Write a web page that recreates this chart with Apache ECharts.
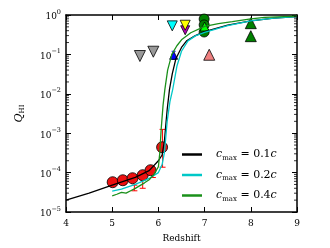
<!DOCTYPE html>
<html><head><meta charset="utf-8">
<script src="https://cdn.jsdelivr.net/npm/echarts@6/dist/echarts.min.js"></script>
<style>html,body{margin:0;padding:0;background:#fff}#c{width:330px;height:248px}</style>
</head><body><div id="c"></div>
<script>
// ---- data ----
const xTicks = [4, 5, 6, 7, 8, 9];
const yTicks = [1e-5, 1e-4, 1e-3, 1e-2, 1e-1, 1];
const yTickLabels = ['10{s|−5}', '10{s|−4}', '10{s|−3}', '10{s|−2}', '10{s|−1}', '10{s|0}'];
const minorMult = [2, 3, 4, 5, 6, 7, 8, 9];
const legendNames = ['c01', 'c02', 'c04'];
const legendLabels = ['0.1', '0.2', '0.4'];

const line01 = [[4,2.0e-5],[4.5,3.0e-5],[5,4.8e-5],[5.5,7.6e-5],[5.8,1.12e-4],[6.0,2.0e-4],[6.08,2.8e-4],[6.13,6.3e-4],[6.16,1.6e-3],[6.19,4.0e-3],[6.24,1.3e-2],[6.30,3.2e-2],[6.38,7.9e-2],[6.5,0.15],[6.61,0.22],[6.8,0.30],[7.0,0.38],[7.5,0.55],[8.0,0.71],[8.5,0.83],[9,0.91]];
const line02 = [[5,3.4e-5],[5.2,3.8e-5],[5.5,5.0e-5],[5.8,7.1e-5],[6.0,1.0e-4],[6.08,1.6e-4],[6.13,3.2e-4],[6.16,7.9e-4],[6.19,2.0e-3],[6.25,6.3e-3],[6.31,1.3e-2],[6.4,5.0e-2],[6.5,0.12],[6.64,0.22],[6.8,0.295],[7.0,0.363],[7.5,0.537],[8.0,0.708],[8.5,0.832],[9,0.912]];
const line04 = [[5,2.57e-5],[5.1,2.82e-5],[5.2,3.16e-5],[5.3,3.02e-5],[5.4,3.47e-5],[5.5,3.98e-5],[5.6,4.68e-5],[5.7,5.5e-5],[5.8,6.6e-5],[5.9,8.9e-5],[6.0,1.41e-4],[6.03,3.16e-4],[6.06,1.26e-3],[6.1,5.0e-3],[6.14,1.29e-2],[6.2,4.0e-2],[6.29,0.1],[6.4,0.166],[6.5,0.234],[6.7,0.355],[7.0,0.513],[7.3,0.603],[7.6,0.676],[8.0,0.794],[8.3,0.871],[9,0.933]];

const redCircles = [[5.01,5.7e-5],[5.23,6.4e-5],[5.44,7.2e-5],[5.66,8.6e-5],[5.83,1.15e-4],[6.08,4.4e-4]];
const redErr = [[5.48,4.8e-5,3.45e-5],[5.66,6.5e-5,4.0e-5],[5.88,1.0e-4,7.5e-5],[6.09,1.25e-3,1.37e-4]];
const grayDown = [[5.60,0.091],[5.89,0.117]];
const cyanDown = [[6.30,0.53]];
const yellowDown = [[6.58,0.55]];
const magentaDown = [[6.58,0.41]];
const bluePts = [[6.33,0.095]];
const blueErr = [[6.33,0.12,0.075]];
const greenCircles = [[6.99,0.79],[6.99,0.56],[6.99,0.37]];
const limeUp = [[7.0,0.51]];
const salmonUp = [[7.1,0.098]];
const dkGreenUp = [[8.0,0.62],[8.0,0.29]];

// ---- chart ----
const SERIF = 'DejaVu Serif';
const chart = echarts.init(document.getElementById('c'), null, {renderer: 'canvas'});

const minorVals = [];
yTicks.slice(0, -1).forEach(d => minorMult.forEach(m => minorVals.push([d * m])));

function errRender(color, cap) {
  return function (params, api) {
    const x = api.value(0);
    const p1 = api.coord([x, api.value(1)]);
    const p2 = api.coord([x, api.value(2)]);
    const st = {stroke: color, lineWidth: 1};
    return {type: 'group', children: [
      {type: 'line', shape: {x1: p1[0], y1: p1[1], x2: p2[0], y2: p2[1]}, style: st},
      {type: 'line', shape: {x1: p1[0]-cap, y1: p1[1], x2: p1[0]+cap, y2: p1[1]}, style: st},
      {type: 'line', shape: {x1: p2[0]-cap, y1: p2[1], x2: p2[0]+cap, y2: p2[1]}, style: st}
    ]};
  };
}

function scatter(data, symbol, color, size, rotate, z) {
  return {type: 'scatter', data: data, symbol: symbol, symbolSize: size, symbolRotate: rotate || 0,
    itemStyle: {color: color, borderColor: '#000', borderWidth: 0.8, opacity: 1}, z: z || 3, silent: true};
}

const axisCommon = {
  axisLine: {show: true, lineStyle: {color: '#000', width: 1.5}},
  axisTick: {show: true, inside: true, length: 5, lineStyle: {color: '#000', width: 1}},
  splitLine: {show: false}
};

const lineColors = ['#000000', '#00c8c8', '#1a901a'];

chart.setOption({
  animation: false,
  backgroundColor: '#fff',
  grid: {left: 66, right: 33, top: 15, bottom: 35},
  legend: {
    orient: 'vertical', left: 182, top: 149, padding: 0, itemWidth: 20, itemHeight: 2.5, itemGap: 8,
    icon: 'rect',
    data: legendNames,
    formatter: function (n) { return '{i|c}{s|max}{n| = ' + legendLabels[legendNames.indexOf(n)] + '}{i|c}'; },
    textStyle: {padding: [0, 0, 0, 9], rich: {
      i: {fontFamily: SERIF, fontStyle: 'italic', fontSize: 11, color: '#000', lineHeight: 14, verticalAlign: 'middle'},
      s: {fontFamily: SERIF, fontSize: 7, color: '#000', lineHeight: 14, verticalAlign: 'bottom'},
      n: {fontFamily: SERIF, fontSize: 11, color: '#000', lineHeight: 14, verticalAlign: 'middle'}
    }}
  },
  xAxis: [
    Object.assign({type: 'value', min: 4, max: 9, interval: 1, position: 'bottom',
      name: 'Redshift', nameLocation: 'middle', nameGap: 22,
      nameTextStyle: {fontFamily: SERIF, fontSize: 9, color: '#000'},
      axisLabel: {fontFamily: SERIF, fontSize: 9, color: '#000', margin: 7,
        formatter: v => String(xTicks[xTicks.indexOf(v)])}}, axisCommon),
    Object.assign({type: 'value', min: 4, max: 9, interval: 1, position: 'top', axisLabel: {show: false}}, axisCommon)
  ],
  yAxis: [
    Object.assign({type: 'log', min: 1e-5, max: 1, logBase: 10, position: 'left',
      name: '{q|Q}{h|HI}', nameLocation: 'middle', nameGap: 40, nameRotate: 90,
      nameTextStyle: {rich: {
        q: {fontFamily: SERIF, fontStyle: 'italic', fontSize: 11, color: '#000', lineHeight: 14, verticalAlign: 'middle'},
        h: {fontFamily: SERIF, fontSize: 7, color: '#000', lineHeight: 14, verticalAlign: 'bottom'}
      }},
      axisLabel: {margin: 5, formatter: v => {
        const i = yTicks.findIndex(t => Math.abs(Math.log10(t) - Math.log10(v)) < 1e-6);
        return i >= 0 ? '{b|' + yTickLabels[i].replace('{s|', '}{s|') : '';
      }, rich: {
        b: {fontFamily: SERIF, fontSize: 9, color: '#000', lineHeight: 13, verticalAlign: 'bottom'},
        s: {fontFamily: SERIF, fontSize: 6.5, color: '#000', lineHeight: 13, verticalAlign: 'top'}
      }}}, axisCommon),
    Object.assign({type: 'log', min: 1e-5, max: 1, logBase: 10, position: 'right', axisLabel: {show: false}}, axisCommon)
  ],
  series: [
    {type: 'custom', renderItem: errRender('#ff0000', 3), data: redErr, z: 2, silent: true},
    scatter(redCircles, 'circle', '#ee1111', 11, 0, 2),
    {type: 'line', name: 'c01', data: line01, symbol: 'none', lineStyle: {color: lineColors[0], width: 1.3}, itemStyle: {color: lineColors[0]}, z: 4},
    {type: 'line', name: 'c02', data: line02, symbol: 'none', lineStyle: {color: lineColors[1], width: 1.3}, itemStyle: {color: lineColors[1]}, z: 4},
    {type: 'line', name: 'c04', data: line04, symbol: 'none', lineStyle: {color: lineColors[2], width: 1.3}, itemStyle: {color: lineColors[2]}, z: 4},
    scatter(grayDown, 'triangle', '#999999', 11, 180),
    scatter(cyanDown, 'triangle', '#00ffff', 10, 180),
    scatter(magentaDown, 'triangle', '#bb00bb', 9, 180),
    scatter(yellowDown, 'triangle', '#ffff00', 10, 180),
    {type: 'custom', renderItem: errRender('#0000ff', 2), data: blueErr, z: 3, silent: true},
    scatter(bluePts, 'triangle', '#0000ff', 8, 0),
    scatter(greenCircles, 'circle', '#008000', 10, 0),
    scatter(limeUp, 'triangle', '#00ff00', 9, 0),
    scatter(salmonUp, 'triangle', '#f08080', 11, 0),
    scatter(dkGreenUp, 'triangle', '#008000', 11, 0),
    {type: 'custom', data: minorVals, silent: true, z: 10, clip: false,
      renderItem: function (params, api) {
        const v = api.value(0);
        const a = api.coord([4, v]);
        const b = api.coord([9, v]);
        const st = {stroke: '#000', lineWidth: 0.8};
        return {type: 'group', children: [
          {type: 'line', shape: {x1: a[0], y1: a[1], x2: a[0] + 3, y2: a[1]}, style: st},
          {type: 'line', shape: {x1: b[0] - 3, y1: b[1], x2: b[0], y2: b[1]}, style: st}
        ]};
      }, encode: {x: -1, y: 0}}
  ]
});
</script></body></html>
